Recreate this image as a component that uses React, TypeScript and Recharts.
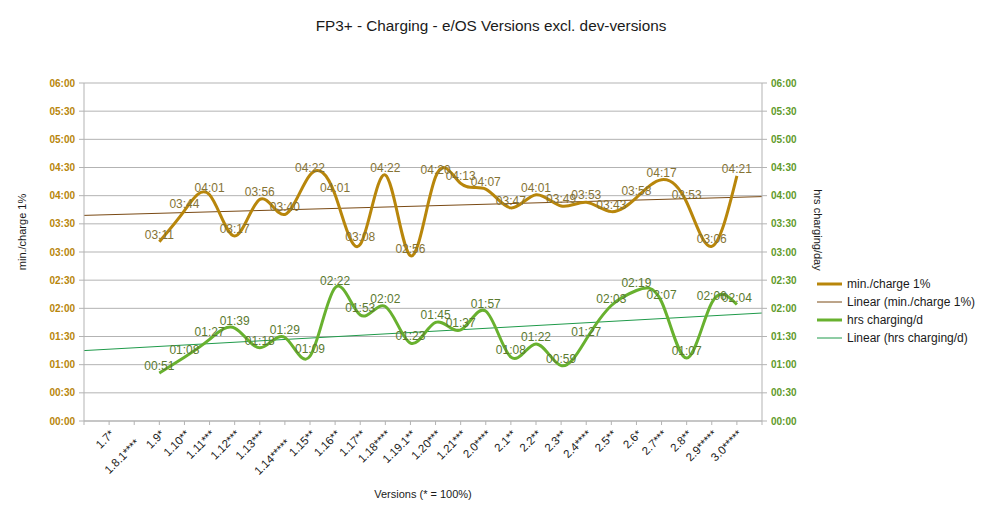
import React from 'react';
import { LineChart, Line, XAxis, YAxis, CartesianGrid, LabelList } from 'recharts';

const versions = ['1.7*', '1.8.1****', '1.9*', '1.10**', '1.11***', '1.12***', '1.13***', '1.14*****', '1.15**', '1.16**', '1.17**', '1.18****', '1.19.1**', '1.20***', '1.21***', '2.0****', '2.1**', '2.2**', '2.3**', '2.4****', '2.5**', '2.6*', '2.7***', '2.8**', '2.9*****', '3.0*****'];

// minutes per 1% of charge, null where the version has no data
const minPerCharge = [null, null, 191, 224, 241, 197, 236, 220, 262, 241, 188, 262, 176, 260, 253, 247, 227, 241, 229, 233, 223, 238, 257, 233, 186, 261];
// time spent charging per day, in minutes
const hrsCharging = [null, null, 51, 68, 87, 99, 78, 89, 69, 142, 113, 122, 83, 105, 97, 117, 68, 82, 59, 87, 123, 139, 127, 67, 126, 124];

// trend lines, value at left and right edge
const minTrend = [219, 239];
const hrsTrend = [75, 115];

const timeTicks = [0, 30, 60, 90, 120, 150, 180, 210, 240, 270, 300, 330, 360];

const GOLD = '#b8860b';
const GREEN = '#68b12f';
const FONT = 'Liberation Sans, Arial, sans-serif';

const fmt = (v: any) => {
    if (v === null || v === undefined) return '';
    const m = Math.round(Number(v));
    const h = Math.floor(m / 60);
    const mm = m % 60;
    return `${String(h).padStart(2, '0')}:${String(mm).padStart(2, '0')}`;
};

const lastX = versions.length + 1;
const xTicks = Array.from({ length: lastX + 1 }, (_, i) => i);

const rows = versions.map((v, i) => ({ x: i + 1, version: v, min: minPerCharge[i], hrs: hrsCharging[i] }));
const minTrendData = [{ x: 0, v: minTrend[0] }, { x: lastX, v: minTrend[1] }];
const hrsTrendData = [{ x: 0, v: hrsTrend[0] }, { x: lastX, v: hrsTrend[1] }];

const VersionTick = (props: any) => {
    const { x, y, payload } = props;
    const label = versions[payload.value - 1];
    if (!label) return null;
    // long labels get pushed down a row, like the original
    const drop = label.length >= 9 ? 9 : 0;
    return (
        <g transform={`translate(${x + 3},${y + 5 + drop})`}>
            <text textAnchor="end" transform="rotate(-45)" dy="0.35em" fontSize={11.5} fill="#1a1a1a" fontFamily={FONT}>
                {label}
            </text>
        </g>
    );
};

const legendItems = [
    { name: 'min./charge 1%', color: GOLD, width: 3 },
    { name: 'Linear (min./charge 1%)', color: '#7a4a14', width: 1 },
    { name: 'hrs charging/d', color: GREEN, width: 3 },
    { name: 'Linear (hrs charging/d)', color: '#1f9a4a', width: 1 },
];

export default function App() {
    return (
        <div style={{ position: 'absolute', left: 0, top: 0, width: 983, height: 509, background: '#fff' }}>
            <LineChart width={983} height={509} data={rows} margin={{ top: 83, right: 171, bottom: 28, left: 0 }}>
                <CartesianGrid yAxisId="left" vertical={false} stroke="#b3b3b3" />
                <XAxis
                    dataKey="x"
                    type="number"
                    domain={[0, lastX]}
                    ticks={xTicks}
                    interval={0}
                    tick={<VersionTick />}
                    tickSize={4}
                    tickMargin={2}
                    height={60}
                    axisLine={{ stroke: '#b3b3b3' }}
                    tickLine={{ stroke: '#b3b3b3' }}
                />
                <YAxis
                    yAxisId="left"
                    domain={[0, 360]}
                    ticks={timeTicks}
                    interval={0}
                    tickFormatter={fmt}
                    width={84}
                    tickSize={5}
                    tickMargin={4}
                    tick={{ fill: GOLD, fontSize: 10, fontWeight: 'bold', fontFamily: FONT }}
                    axisLine={{ stroke: '#b3b3b3' }}
                    tickLine={{ stroke: '#b3b3b3' }}
                />
                <YAxis
                    yAxisId="right"
                    orientation="right"
                    domain={[0, 360]}
                    ticks={timeTicks}
                    interval={0}
                    tickFormatter={fmt}
                    width={50}
                    tickSize={5}
                    tickMargin={4}
                    tick={{ fill: '#5f9a2a', fontSize: 10, fontWeight: 'bold', fontFamily: FONT }}
                    axisLine={{ stroke: '#b3b3b3' }}
                    tickLine={{ stroke: '#b3b3b3' }}
                />
                <Line yAxisId="left" data={minTrendData} dataKey="v" type="linear" stroke="#7a4a14" strokeWidth={1} dot={false} activeDot={false} isAnimationActive={false} />
                <Line yAxisId="right" data={hrsTrendData} dataKey="v" type="linear" stroke="#1f9a4a" strokeWidth={1} dot={false} activeDot={false} isAnimationActive={false} />
                <Line yAxisId="left" dataKey="min" type="natural" stroke={GOLD} strokeWidth={3} dot={false} activeDot={false} isAnimationActive={false}>
                    <LabelList dataKey="min" position="top" offset={3} formatter={fmt} fill="#857335" stroke="none" fontSize={12} fontFamily={FONT} />
                </Line>
                <Line yAxisId="right" dataKey="hrs" type="natural" stroke={GREEN} strokeWidth={3} dot={false} activeDot={false} isAnimationActive={false}>
                    <LabelList dataKey="hrs" position="top" offset={3} formatter={fmt} fill="#5b7a30" stroke="none" fontSize={12} fontFamily={FONT} />
                </Line>
            </LineChart>
            <svg width={983} height={509} style={{ position: 'absolute', left: 0, top: 0, pointerEvents: 'none' }} fontFamily={FONT}>
                <text x={491} y={31} textAnchor="middle" fontSize={15.3} fill="#1a1a1a">FP3+ - Charging - e/OS Versions excl. dev-versions</text>
                <text x={423} y={498} textAnchor="middle" fontSize={11} fill="#1a1a1a">Versions (* = 100%)</text>
                <text transform="translate(26,232) rotate(-90)" textAnchor="middle" fontSize={11} fill="#1a1a1a">min./charge 1%</text>
                <text transform="translate(814,230) rotate(90)" textAnchor="middle" fontSize={11} fill="#1a1a1a">hrs charging/day</text>
                {legendItems.map((it, i) => (
                    <g key={it.name} transform={`translate(817,${284 + i * 18})`}>
                        <line x1={0} x2={25} y1={0} y2={0} stroke={it.color} strokeWidth={it.width} />
                        <text x={30} y={0} dy="0.35em" fontSize={12} fill="#1a1a1a">{it.name}</text>
                    </g>
                ))}
            </svg>
        </div>
    );
}
